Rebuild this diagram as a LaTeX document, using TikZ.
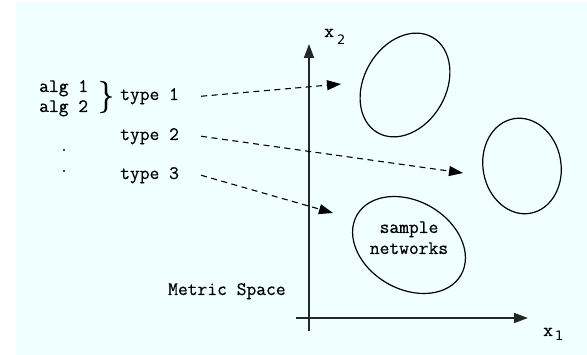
\documentclass[tikz,border=0pt]{standalone}
\usepackage{fontspec}
\setmonofont{Latin Modern Mono}[FakeBold=0.6]
\newfontfamily\subfont{DejaVu Sans}
\newfontfamily\bracefont{Latin Modern Roman}[FakeBold=0.6]
\usetikzlibrary{arrows.meta,shapes.geometric}
\definecolor{bgcyan}{HTML}{F0FFFF}
\definecolor{axisgray}{HTML}{262626}
\begin{document}
\begin{tikzpicture}[x=1pt,y=-1pt,
  lbl/.style={font=\ttfamily\fontsize{19}{22}\selectfont, inner sep=0pt, anchor=base west},
  sub/.style={font=\subfont\fontsize{13}{15}\selectfont, inner sep=0pt, anchor=base west},
  blob/.style={draw, line width=1.2pt, ellipse, inner sep=0pt},
  dot/.style={circle, fill, inner sep=0pt, minimum size=2.4pt},
  dasharrow/.style={line width=1.1pt, dash pattern=on 6pt off 4.5pt, -{Triangle[length=14pt,width=10pt]}},
  axisline/.style={line width=1.6pt, draw=axisgray, -{Triangle[length=14pt,width=10pt]}}]
\useasboundingbox (0,0) rectangle (587,355);
\fill[bgcyan] (16,2) rectangle (587,355);
% axes
\coordinate (ybot) at (309,331);
\coordinate (ytop) at (309,44);
\coordinate (xl) at (296,318);
\coordinate (xr) at (528,318);
\draw[axisline] (ybot) -- (ytop);
\draw[axisline] (xl) -- (xr);
% ellipses
\node[blob, minimum width=110pt, minimum height=82pt, rotate=60] (e1) at (405,85) {};
\node[blob, minimum width=78pt, minimum height=96pt, rotate=10] (e2) at (522,166) {};
\node[blob, minimum width=120pt, minimum height=88pt, rotate=-30] (e3) at (409,245) {};
% texts
\node[lbl] (alg1) at (39,92) {alg 1};
\node[lbl] (alg2) at (39,112) {alg 2};
\node[font=\bracefont\fontsize{32}{32}\selectfont, inner sep=0pt] (br) at (106,97) {\}};
\node[lbl] (t1) at (120,100) {type 1};
\node[lbl] (t2) at (120,140) {type 2};
\node[lbl] (t3) at (120,179) {type 3};
\node[dot] (d1) at (64,150) {};
\node[dot] (d2) at (64,171) {};
\node[lbl] (ms) at (168,295) {Metric Space};
\node[lbl, anchor=base] (sn1) at (409,233) {sample};
\node[lbl, anchor=base] (sn2) at (409,254) {networks};
\node[lbl] (x2) at (324,37) {x};
\node[sub] (x2s) at (337,45) {2};
\node[lbl] (x1) at (543,336) {x};
\node[sub] (x1s) at (555,341) {1};
% arrows
\coordinate (a1) at (341,84);
\coordinate (a2) at (463,173);
\coordinate (a3) at (333,213);
\draw[dasharrow] ([xshift=22pt]t1.east) -- (a1);
\draw[dasharrow] ([xshift=22pt]t2.east) -- (a2);
\draw[dasharrow] ([xshift=22pt]t3.east) -- (a3);
\end{tikzpicture}
\end{document}
